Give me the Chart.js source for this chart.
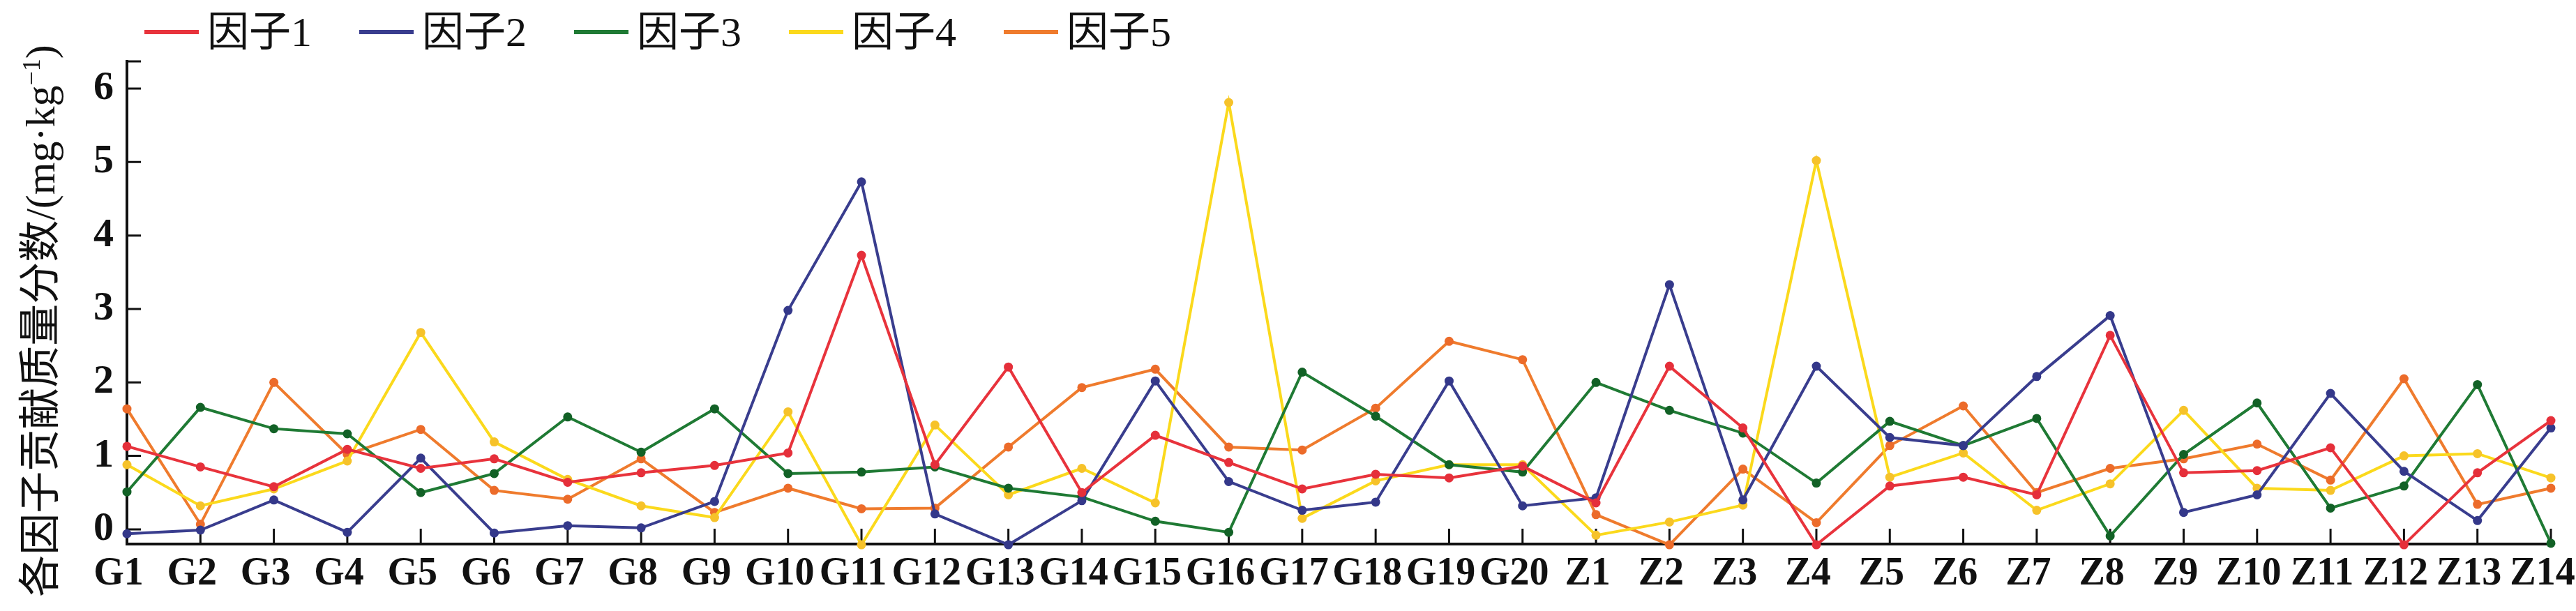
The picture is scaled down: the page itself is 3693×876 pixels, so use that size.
<!DOCTYPE html>
<html>
<head>
<meta charset="utf-8">
<script src="https://cdn.jsdelivr.net/npm/chart.js@4.4.1/dist/chart.umd.min.js"></script>
<style>
  html, body { margin: 0; padding: 0; background: #fff; }
  #wrap { position: relative; width: 3693px; height: 876px; overflow: hidden; background: #fff; }
  #chart { position: absolute; left: 0; top: 0; }
  #legend { position: absolute; left: 207px; top: 16px; display: flex; gap: 68px; }
  .item { display: flex; align-items: center; height: 60px; }
  .swatch { width: 78px; height: 6px; margin-right: 12px; }
  .item span { font-size: 60px; line-height: 60px; font-family: "Liberation Serif", "Noto Sans CJK SC", serif; color: #111; white-space: nowrap; }
  #ytitle {
    position: absolute; left: -392px; top: 430px; width: 900px; height: 60px;
    line-height: 60px; font-size: 60px; color: #111; text-align: center; white-space: nowrap;
    font-family: "Liberation Serif", "Noto Sans CJK SC", serif;
    transform: rotate(-90deg);
  }
  #ytitle sup { font-size: 0.6em; line-height: 0; }
</style>
</head>
<body>
<div id="wrap">
  <canvas id="chart" width="3693" height="876"></canvas>
  <div id="legend"></div>
  <div id="ytitle">各因子贡献质量分数/(mg·kg<sup>−1</sup>)</div>
</div>
<script>
// sampling sites
const categories = ['G1', 'G2', 'G3', 'G4', 'G5', 'G6', 'G7', 'G8', 'G9', 'G10',
    'G11', 'G12', 'G13', 'G14', 'G15', 'G16', 'G17', 'G18', 'G19', 'G20',
    'Z1', 'Z2', 'Z3', 'Z4', 'Z5', 'Z6', 'Z7', 'Z8', 'Z9', 'Z10', 'Z11', 'Z12', 'Z13', 'Z14'];

// factor contributions, mg/kg
const factor1 = [1.13, 0.85, 0.58, 1.09, 0.83, 0.96, 0.64, 0.77, 0.87, 1.04,
    3.73, 0.88, 2.21, 0.50, 1.28, 0.91, 0.55, 0.75, 0.70, 0.86,
    0.36, 2.22, 1.38, -0.21, 0.59, 0.71, 0.47, 2.64, 0.77, 0.80, 1.11, -0.21, 0.77, 1.48];
const factor2 = [-0.06, -0.01, 0.40, -0.04, 0.97, -0.05, 0.05, 0.02, 0.38, 2.98,
    4.73, 0.21, -0.21, 0.39, 2.02, 0.65, 0.26, 0.37, 2.02, 0.32,
    0.43, 3.33, 0.40, 2.22, 1.25, 1.14, 2.08, 2.91, 0.23, 0.47, 1.85, 0.79, 0.12, 1.38];
const factor3 = [0.51, 1.66, 1.37, 1.30, 0.50, 0.76, 1.53, 1.05, 1.64, 0.76,
    0.78, 0.85, 0.56, 0.44, 0.11, -0.04, 2.14, 1.54, 0.88, 0.78,
    2.00, 1.62, 1.31, 0.63, 1.47, 1.14, 1.51, -0.09, 1.02, 1.72, 0.29, 0.59, 1.97, -0.19];
const factor4 = [0.88, 0.32, 0.55, 0.93, 2.68, 1.19, 0.68, 0.32, 0.16, 1.60,
    -0.21, 1.42, 0.47, 0.83, 0.36, 5.81, 0.15, 0.66, 0.88, 0.88,
    -0.08, 0.10, 0.33, 5.02, 0.71, 1.04, 0.26, 0.62, 1.62, 0.56, 0.53, 1.00, 1.03, 0.70];
const factor5 = [1.64, 0.07, 2.00, 1.02, 1.36, 0.53, 0.41, 0.96, 0.23, 0.56,
    0.28, 0.29, 1.12, 1.93, 2.18, 1.12, 1.08, 1.65, 2.56, 2.31,
    0.20, -0.21, 0.82, 0.09, 1.14, 1.68, 0.50, 0.83, 0.96, 1.16, 0.67, 2.05, 0.34, 0.56];

const seriesNames = ['因子1', '因子2', '因子3', '因子4', '因子5'];
const yTicks = [0, 1, 2, 3, 4, 5, 6];

const lineColors = ['#e8333c', '#393d8e', '#1f7a34', '#fbd91c', '#ef7b2d'];
const pointColors = ['#e52f3a', '#34388a', '#126126', '#f6c22a', '#ec6b2a'];

const seriesData = [factor1, factor2, factor3, factor4, factor5];

// legend as html
const legendEl = document.getElementById('legend');
seriesNames.forEach((name, i) => {
    const item = document.createElement('div');
    item.className = 'item';
    const sw = document.createElement('div');
    sw.className = 'swatch';
    sw.style.background = lineColors[i];
    const txt = document.createElement('span');
    txt.textContent = name;
    item.appendChild(sw);
    item.appendChild(txt);
    legendEl.appendChild(item);
});

// tick marks point into the plot in the original
const innerTicks = {
    id: 'innerTicks',
    beforeDatasetsDraw(chart) {
        const { ctx, chartArea, scales } = chart;
        const x = scales.x, y = scales.y;
        ctx.save();
        ctx.strokeStyle = '#111';
        ctx.lineWidth = 3;
        ctx.beginPath();
        x.ticks.forEach((t, i) => {
            const px = x.getPixelForTick(i);
            ctx.moveTo(px, chartArea.bottom);
            ctx.lineTo(px, chartArea.bottom - 22);
        });
        y.ticks.forEach((t, i) => {
            const py = y.getPixelForTick(i);
            ctx.moveTo(chartArea.left, py);
            ctx.lineTo(chartArea.left + 20, py);
        });
        ctx.moveTo(chartArea.left, chartArea.top);
        ctx.lineTo(chartArea.left + 20, chartArea.top);
        ctx.stroke();
        ctx.restore();
    }
};

const tickFamily = '"Liberation Serif", "Times New Roman", serif';

new Chart(document.getElementById('chart'), {
    type: 'line',
    data: {
        labels: categories,
        datasets: seriesData.map((d, i) => ({
            label: seriesNames[i],
            data: d,
            borderColor: lineColors[i],
            backgroundColor: pointColors[i],
            pointBackgroundColor: pointColors[i],
            pointBorderWidth: 0,
            pointRadius: 6.5,
            borderWidth: 4,
            tension: 0,
            fill: false,
            clip: false
        }))
    },
    options: {
        responsive: false,
        animation: false,
        events: [],
        layout: { padding: { left: 0, right: 36, top: 88, bottom: 0 } },
        plugins: {
            legend: { display: false },
            tooltip: { enabled: false }
        },
        scales: {
            x: {
                offset: false,
                grid: { display: true, drawOnChartArea: false, drawTicks: false },
                border: { display: true, color: '#111', width: 4 },
                ticks: {
                    autoSkip: false,
                    maxRotation: 0,
                    minRotation: 0,
                    padding: 10,
                    labelOffset: -12,
                    color: '#111',
                    font: { family: tickFamily, size: 56, weight: 'bold' }
                },
                afterFit: function(scale) {
                    scale.height = 96;
                    scale.paddingLeft = 0;
                    scale.paddingRight = 0;
                }
            },
            y: {
                min: -0.2,
                max: 6.37,
                grid: { display: true, drawOnChartArea: false, drawTicks: false },
                border: { display: true, color: '#111', width: 4 },
                ticks: {
                    padding: 19,
                    color: '#111',
                    font: { family: tickFamily, size: 58, weight: 'bold' }
                },
                afterBuildTicks: function(scale) {
                    scale.ticks = yTicks.map(v => ({ value: v }));
                },
                afterFit: function(scale) {
                    scale.width = 182;
                    scale.paddingTop = 0;
                    scale.paddingBottom = 0;
                }
            }
        }
    },
    plugins: [innerTicks]
});
</script>
</body>
</html>
